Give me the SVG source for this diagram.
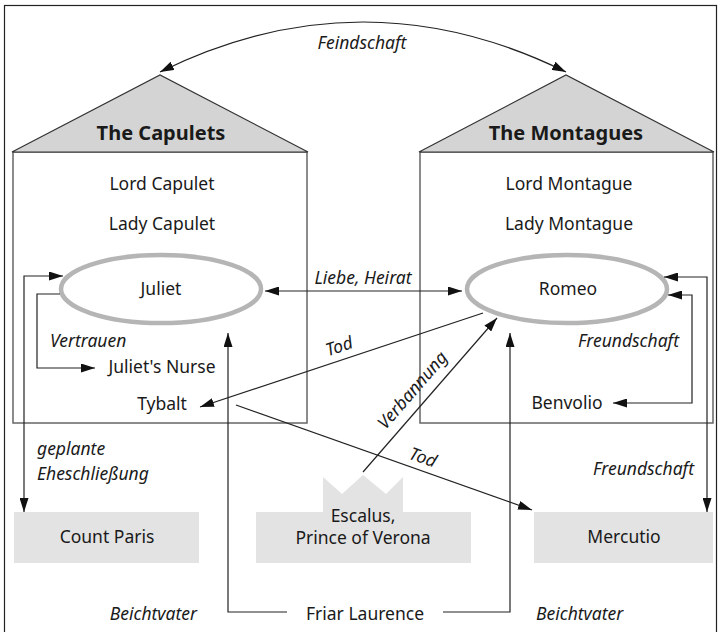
<svg xmlns="http://www.w3.org/2000/svg" width="721" height="632" viewBox="0 0 721 632">
<style>
text{font-family:"Noto Sans","Open Sans","DejaVu Sans",sans-serif;fill:#1a1a1a;}
.n{font-size:17.5px;text-anchor:middle;}
.i{font-size:17.5px;font-style:italic;}
.t{font-size:20px;font-weight:bold;text-anchor:middle;}
.roof{fill:#d4d4d4;stroke:#333;stroke-width:1.2;}
.body{fill:#fff;stroke:#666;stroke-width:1.5;}
.ell{fill:#fff;stroke:#b5b5b5;stroke-width:4.5;}
.box{fill:#e3e3e3;stroke:none;}
.c{fill:none;stroke:#222;stroke-width:1.2;}
</style>
<defs>
<marker id="a" viewBox="0 0 14 9" refX="14" refY="4.5" markerWidth="14" markerHeight="9" markerUnits="userSpaceOnUse" orient="auto-start-reverse">
<path d="M0,0 L14,4.5 L0,9 Z" fill="#111"/>
</marker>
</defs>
<rect x="4.5" y="5.5" width="712" height="640" fill="#fff" stroke="#222" stroke-width="1.2"/>

<g id="capulets">
<rect class="body" x="13" y="152" width="294" height="271"/>
<polygon class="roof" points="12,152 160,75 308,152"/>
<text class="t" x="161" y="140">The Capulets</text>
</g>
<g id="montagues">
<rect class="body" x="420" y="152" width="293" height="271"/>
<polygon class="roof" points="419,152 566,75 714,152"/>
<text class="t" x="566" y="140">The Montagues</text>
</g>

<g id="lord-capulet"><text class="n" x="162" y="190">Lord Capulet</text></g>
<g id="lady-capulet"><text class="n" x="162" y="230">Lady Capulet</text></g>
<g id="juliet"><ellipse class="ell" cx="161" cy="289" rx="100" ry="34"/><text class="n" x="161" y="295">Juliet</text></g>
<g id="juliets-nurse"><text class="n" x="162" y="373">Juliet's Nurse</text></g>
<g id="tybalt"><text class="n" x="162" y="410">Tybalt</text></g>

<g id="lord-montague"><text class="n" x="569" y="190">Lord Montague</text></g>
<g id="lady-montague"><text class="n" x="569" y="230">Lady Montague</text></g>
<g id="romeo"><ellipse class="ell" cx="567" cy="289" rx="100" ry="34"/><text class="n" x="568" y="295">Romeo</text></g>
<g id="benvolio"><text class="n" x="567" y="409">Benvolio</text></g>

<g id="count-paris"><rect class="box" x="14" y="512" width="185" height="51"/><text class="n" x="107" y="543">Count Paris</text></g>
<g id="escalus"><polygon class="box" points="323,477 342,494 363,475 386,494 403,477 403,512 471,512 471,563 256,563 256,512 323,512"/><text class="n" x="363" y="522">Escalus,</text><text class="n" x="363" y="544">Prince of Verona</text></g>
<g id="mercutio"><rect class="box" x="534" y="512" width="179" height="51"/><text class="n" x="624" y="543">Mercutio</text></g>
<g id="friar-laurence"><text class="n" x="365" y="620">Friar Laurence</text></g>

<g id="connectors">
<path class="c" d="M160,72 Q363,-28 566,72" marker-start="url(#a)" marker-end="url(#a)"/>
<line class="c" x1="265" y1="291" x2="462" y2="291" marker-start="url(#a)" marker-end="url(#a)"/>
<path class="c" d="M24,512 V276 H63" marker-start="url(#a)" marker-end="url(#a)"/>
<path class="c" d="M60,294 H37 V368 H95" marker-end="url(#a)"/>
<line class="c" x1="483" y1="313" x2="200" y2="407" marker-end="url(#a)"/>
<line class="c" x1="236" y1="405" x2="532" y2="510" marker-end="url(#a)"/>
<line class="c" x1="363" y1="472" x2="497" y2="318" marker-end="url(#a)"/>
<path class="c" d="M707,512 V277 H664" marker-start="url(#a)" marker-end="url(#a)"/>
<path class="c" d="M613,403 H692 V295 H668" marker-start="url(#a)" marker-end="url(#a)"/>
<path class="c" d="M287,612 H228 V333" marker-end="url(#a)"/>
<path class="c" d="M443,612 H510 V333" marker-end="url(#a)"/>
</g>

<g id="labels">
<text class="i" x="362" y="49" text-anchor="middle">Feindschaft</text>
<text class="i" x="363" y="284" text-anchor="middle">Liebe, Heirat</text>
<text class="i" x="50" y="347">Vertrauen</text>
<text class="i" x="679" y="347" text-anchor="end">Freundschaft</text>
<text class="i" x="341" y="352" text-anchor="middle" transform="rotate(-18.4 341 352)">Tod</text>
<text class="i" x="417" y="394" text-anchor="middle" transform="rotate(-49 417 394)">Verbannung</text>
<text class="i" x="421" y="463" text-anchor="middle" transform="rotate(19.5 421 463)">Tod</text>
<text class="i" x="37" y="455">geplante</text>
<text class="i" x="37" y="480">Eheschließung</text>
<text class="i" x="694" y="475" text-anchor="end">Freundschaft</text>
<text class="i" x="197" y="620" text-anchor="end">Beichtvater</text>
<text class="i" x="536" y="620">Beichtvater</text>
</g>
</svg>
